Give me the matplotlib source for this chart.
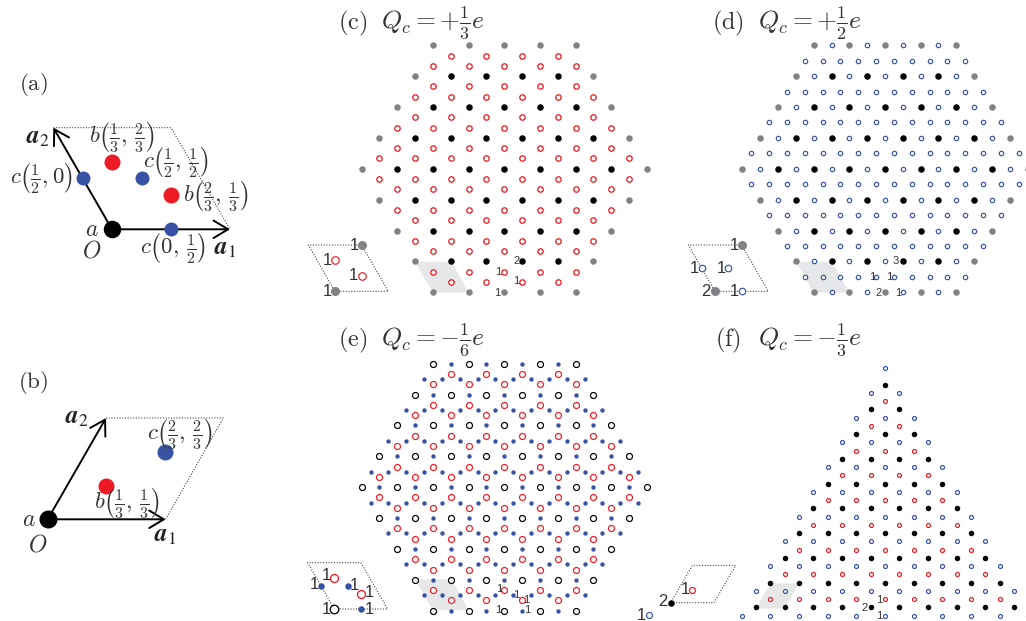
import numpy as np
import matplotlib
matplotlib.use("Agg")
import matplotlib.pyplot as plt
from matplotlib.transforms import Affine2D

plt.rcParams["mathtext.fontset"] = "cm"

W, H = 1026, 621

RED = "#ed1c24"
BLUE = "#3953a4"
GRAY = "#808285"
SHADE = "#e6e7e8"
DIGIT = "#333333"

# ---- hexagon lattice rows: row height (in thirds of a row) and half extent (in half cells)
gray_full_v = [0, 24]
gray_full_half = [4, 4]
gray_edge_v = [3, 6, 9, 12, 15, 18, 21]
gray_edge_half = [5, 6, 7, 8, 7, 6, 5]
black_v = [3, 6, 9, 12, 15, 18, 21]
black_half = [3, 4, 5, 6, 5, 4, 3]
site_v = [0, 3, 6, 9, 12, 15, 18, 21, 24]
site_half = [4, 5, 6, 7, 8, 7, 6, 5, 4]

red_v = [1, 2, 4, 5, 7, 8, 10, 11, 13, 14, 16, 17, 19, 20, 22, 23]
red_half = [3, 4, 4, 5, 5, 6, 6, 7, 7, 6, 6, 5, 5, 4, 4, 3]

blue_on_v = [0, 3, 6, 9, 12, 15, 18, 21, 24]
blue_on_half = [3, 4, 5, 6, 7, 6, 5, 4, 3]
blue_mid_v = [1.5, 4.5, 7.5, 10.5, 13.5, 16.5, 19.5, 22.5]
blue_mid_half = [4.5, 5.5, 6.5, 7.5, 7.5, 6.5, 5.5, 4.5]

# ---- triangle of panel (f)
tri_black_v = [0, 3, 6, 9, 12, 15, 18, 21, 24, 27]
tri_black_half = [0, 1, 2, 3, 4, 5, 6, 7, 8, 9]
tri_blue_v = [-2, 1, 4, 7, 10, 13, 16, 19, 22, 25, 28]
tri_blue_half = [0, 1, 2, 3, 4, 5, 6, 7, 8, 9, 10]
tri_red_v = [2, 5, 8, 11, 14, 17, 20, 23, 26]
tri_red_half = [0, 1, 2, 3, 4, 5, 6, 7, 8]

# ---- fractional positions inside the unit cells
cell_red = [(1/3, 2/3), (2/3, 1/3)]
cell_blue = [(0, 1/2), (1/2, 1/2), (1/2, 0)]
cell_ends = [(0, 0), (1, 1)]
cell_origin = [(0, 0)]
cell_b_red = [(1/3, 1/3)]
cell_b_blue = [(2/3, 2/3)]
cell_f_blue = [(-1/3, -1/3)]
cell_f_red = [(1/3, 1/3)]
corners = [(0, 0), (1, 0), (1, 1), (0, 1), (0, 0)]


def expand(vs, halves, step=2):
    us, out = [], []
    for v, h in zip(vs, halves):
        row = np.arange(-h, h + 0.01, step)
        us.extend(row)
        out.extend([v] * len(row))
    return us, out


fig = plt.figure(figsize=(W / 100, H / 100), dpi=100)
ax = fig.add_axes([0, 0, 1, 1])
ax.set_xlim(0, W)
ax.set_ylim(H, 0)
ax.autoscale(False)
ax.axis("off")


def px(n):
    return n * 0.72


def dots(tr, u, v, color, d, z=3):
    ax.plot(u, v, ls="none", marker="o", ms=px(d), mfc=color, mec="none", transform=tr, zorder=z)


def rings(tr, u, v, color, d, lw=1.2, z=3):
    ax.plot(u, v, ls="none", marker="o", ms=px(d), mfc="white", mec=color, mew=px(lw), transform=tr, zorder=z)


def lattice(x0, y0, sx, sy):
    return Affine2D().scale(sx, sy).translate(x0, y0) + ax.transData


def cell(x0, y0, a1, a2):
    return Affine2D.from_values(a1[0], a1[1], a2[0], a2[1], x0, y0) + ax.transData


def xy(points):
    return [p[0] for p in points], [p[1] for p in points]


def arrow(tr, end):
    ax.annotate("", xy=end, xytext=(0, 0), xycoords=tr, textcoords=tr,
                arrowprops=dict(arrowstyle="->,head_length=0.75,head_width=0.45", lw=1.4, color="black",
                                shrinkA=0, shrinkB=0, mutation_scale=14), zorder=2)


def tex(x, y, s, size=16.5, **kw):
    ax.text(x, y, s, fontsize=size, ha="center", va="center", color="#333333", zorder=6, **kw)


def digit(x, y, s, size=8):
    ax.text(x, y, s, fontsize=size, ha="center", va="center", color=DIGIT, family="Liberation Sans", zorder=6)


def vec(x, y, s):
    ax.text(x, y, s, fontsize=18, ha="center", va="center", color="#222222", math_fontfamily="stix", zorder=6)


def shade(pts):
    ax.fill([p[0] for p in pts], [p[1] for p in pts], color=SHADE, lw=0, zorder=1)


def dotted(tr):
    ax.plot(*xy(corners), color="#333333", lw=0.75, ls=(0, (1, 1.6)), transform=tr, zorder=1)


# ---- (a)
tr = cell(112, 229.3, (118, 0), (-58.7, -101.7))
ax.plot([53.3, 171, 230], [127.7, 127.7, 229.3], color="#333333", lw=0.75, ls=(0, (1, 1.6)), zorder=1)
arrow(tr, (1, 0))
arrow(tr, (0, 1))
dots(tr, *xy(cell_origin), "black", 17.5)
dots(tr, *xy(cell_red), RED, 16)
dots(tr, *xy(cell_blue), BLUE, 14)
tex(33, 85, r"$\mathrm{(a)}$", 16.5)
tex(91.7, 229, r"$a$", 17)
tex(91.7, 251, r"$O$", 17)
tex(41, 178, r"$c\left(\frac{1}{2},0\right)$")
tex(122, 137, r"$b\left(\frac{1}{3},\,\frac{2}{3}\right)$")
tex(176, 162, r"$c\left(\frac{1}{2},\,\frac{1}{2}\right)$")
tex(216, 196, r"$b\left(\frac{2}{3},\,\frac{1}{3}\right)$")
tex(173, 248, r"$c\left(0,\,\frac{1}{2}\right)$")
vec(225, 248, r"$\mathbfit{a}_1$")
vec(38, 137, r"$\mathbfit{a}_2$")

# ---- (b)
tr = cell(47.7, 519.3, (118, 0), (58.3, -101.3))
ax.plot([106, 223.3, 165.7], [418, 418, 519.3], color="#333333", lw=0.75, ls=(0, (1, 1.6)), zorder=1)
arrow(tr, (1, 0))
arrow(tr, (0, 1))
dots(tr, *xy(cell_origin), "black", 18)
dots(tr, *xy(cell_b_red), RED, 16)
dots(tr, *xy(cell_b_blue), BLUE, 16)
tex(33, 383, r"$\mathrm{(b)}$", 16.5)
tex(28.5, 519, r"$a$", 17)
tex(37.5, 544, r"$O$", 17)
tex(127, 503, r"$b\left(\frac{1}{3},\,\frac{1}{3}\right)$")
tex(180, 434, r"$c\left(\frac{2}{3},\,\frac{2}{3}\right)$")
vec(165, 535, r"$\mathbfit{a}_1$")
vec(77, 417, r"$\mathbfit{a}_2$")

# ---- titles
tex(353, 23, r"$\mathrm{(c)}$", 17.5)
tex(433, 23, r"$Q_c=+\frac{1}{3}e$", 18.5)
tex(728, 23, r"$\mathrm{(d)}$", 17.5)
tex(810, 23, r"$Q_c=+\frac{1}{2}e$", 18.5)
tex(353, 340, r"$\mathrm{(e)}$", 17.5)
tex(433, 340, r"$Q_c=-\frac{1}{6}e$", 18.5)
tex(728, 340, r"$\mathrm{(f)}$", 17.5)
tex(810, 340, r"$Q_c=-\frac{1}{3}e$", 18.5)

SX, SY = 17.83, 10.29

# ---- (c)
tr = lattice(504.3, 45.3, SX, SY)
dots(tr, *expand(gray_full_v, gray_full_half), GRAY, 6.5)
for v, h in zip(gray_edge_v, gray_edge_half):
    dots(tr, [-h, h], [v, v], GRAY, 6.5)
dots(tr, *expand(black_v, black_half), "black", 6.5)
rings(tr, *expand(red_v, red_half), RED, 5.4, 1.3)
shade([(415, 261.7), (451.5, 261.7), (468.7, 292.5), (433, 292.5)])
tr = cell(335, 291.3, (53.3, 0), (-26.7, -46.3))
dotted(tr)
dots(tr, *xy(cell_ends), GRAY, 9)
rings(tr, *xy(cell_red), RED, 7.5)
digit(327, 291.5, "1", 12)
digit(354, 245.5, "1", 12)
digit(327, 260.5, "1", 12)
digit(353.5, 276, "1", 12)
digit(516.5, 261.5, "2")
digit(498, 272, "1")
digit(516, 281.5, "1")
digit(497.5, 292.5, "1")

# ---- (d)
tr = lattice(885, 45.3, SX, SY)
dots(tr, *expand(gray_full_v, gray_full_half), GRAY, 6.5)
for v, h in zip(gray_edge_v, gray_edge_half):
    dots(tr, [-h, h], [v, v], GRAY, 6.5)
dots(tr, *expand(black_v, black_half), "black", 6.5)
rings(tr, *expand(blue_on_v, blue_on_half), BLUE, 4.4)
rings(tr, *expand(blue_mid_v, blue_mid_half, 1), BLUE, 4.4)
shade([(796, 261.7), (832, 261.7), (849.5, 292.5), (813.5, 292.5)])
tr = cell(715, 291.3, (53.3, 0), (-26.7, -46.3))
dotted(tr)
dots(tr, *xy(cell_ends), GRAY, 9)
rings(tr, *xy(cell_blue), BLUE, 6.5)
digit(734.5, 245, "1", 12)
digit(694, 268.3, "1", 12)
digit(721, 268.3, "1", 12)
digit(706, 291, "2", 12)
digit(734.5, 291, "1", 12)
digit(896, 261.5, "3")
digit(872, 277, "1")
digit(889.5, 277, "1")
digit(879, 292.5, "2")
digit(898.5, 292.5, "1")

# ---- (e)
tr = lattice(504.3, 363.7, SX, SY)
rings(tr, *expand(site_v, site_half), "black", 6)
dots(tr, *expand(blue_on_v, blue_on_half), BLUE, 4.4)
dots(tr, *expand(blue_mid_v, blue_mid_half, 1), BLUE, 4.4)
rings(tr, *expand(red_v, red_half), RED, 6)
shade([(415, 579.3), (451.5, 579.3), (468.7, 610.2), (433, 610.2)])
tr = cell(334.3, 609, (53.3, 0), (-26.7, -46.3))
dotted(tr)
rings(tr, *xy(cell_origin), "black", 8.5, 1.3)
dots(tr, *xy(cell_blue), BLUE, 6.5)
rings(tr, *xy(cell_red), RED, 8, 1.3)
digit(314.5, 584.5, "1", 12)
digit(326.5, 575, "1", 12)
digit(354.5, 585, "1", 12)
digit(369.5, 592.5, "1", 12)
digit(326, 609, "1", 12)
digit(369, 609, "1", 12)
digit(499.5, 589, "1")
digit(516.5, 595, "1")
digit(526.5, 600, "1")
digit(498, 610, "1")
digit(527, 610, "1")

# ---- (f)
tr = lattice(885, 384.7, 14.33, 8.25)
dots(tr, *expand(tri_black_v, tri_black_half), "black", 5.5)
rings(tr, *expand(tri_blue_v, tri_blue_half), BLUE, 4)
rings(tr, *expand(tri_red_v, tri_red_half), RED, 4)
shade([(770.3, 583.5), (799, 583.5), (784.7, 608.5), (756, 608.5)])
tr = cell(670.7, 602.7, (43.3, 0), (21.7, -37.3))
dotted(tr)
dots(tr, *xy(cell_origin), "black", 6.5)
rings(tr, *xy(cell_f_red), RED, 6)
rings(tr, *xy(cell_f_blue), BLUE, 6)
digit(663, 601.5, "2", 12)
digit(685.5, 589.5, "1", 12)
digit(641, 615.5, "1", 12)
digit(864.3, 608.3, "2")
digit(879.3, 600, "1")
digit(879.3, 616.3, "1")

fig.savefig("out.png", dpi=100)
